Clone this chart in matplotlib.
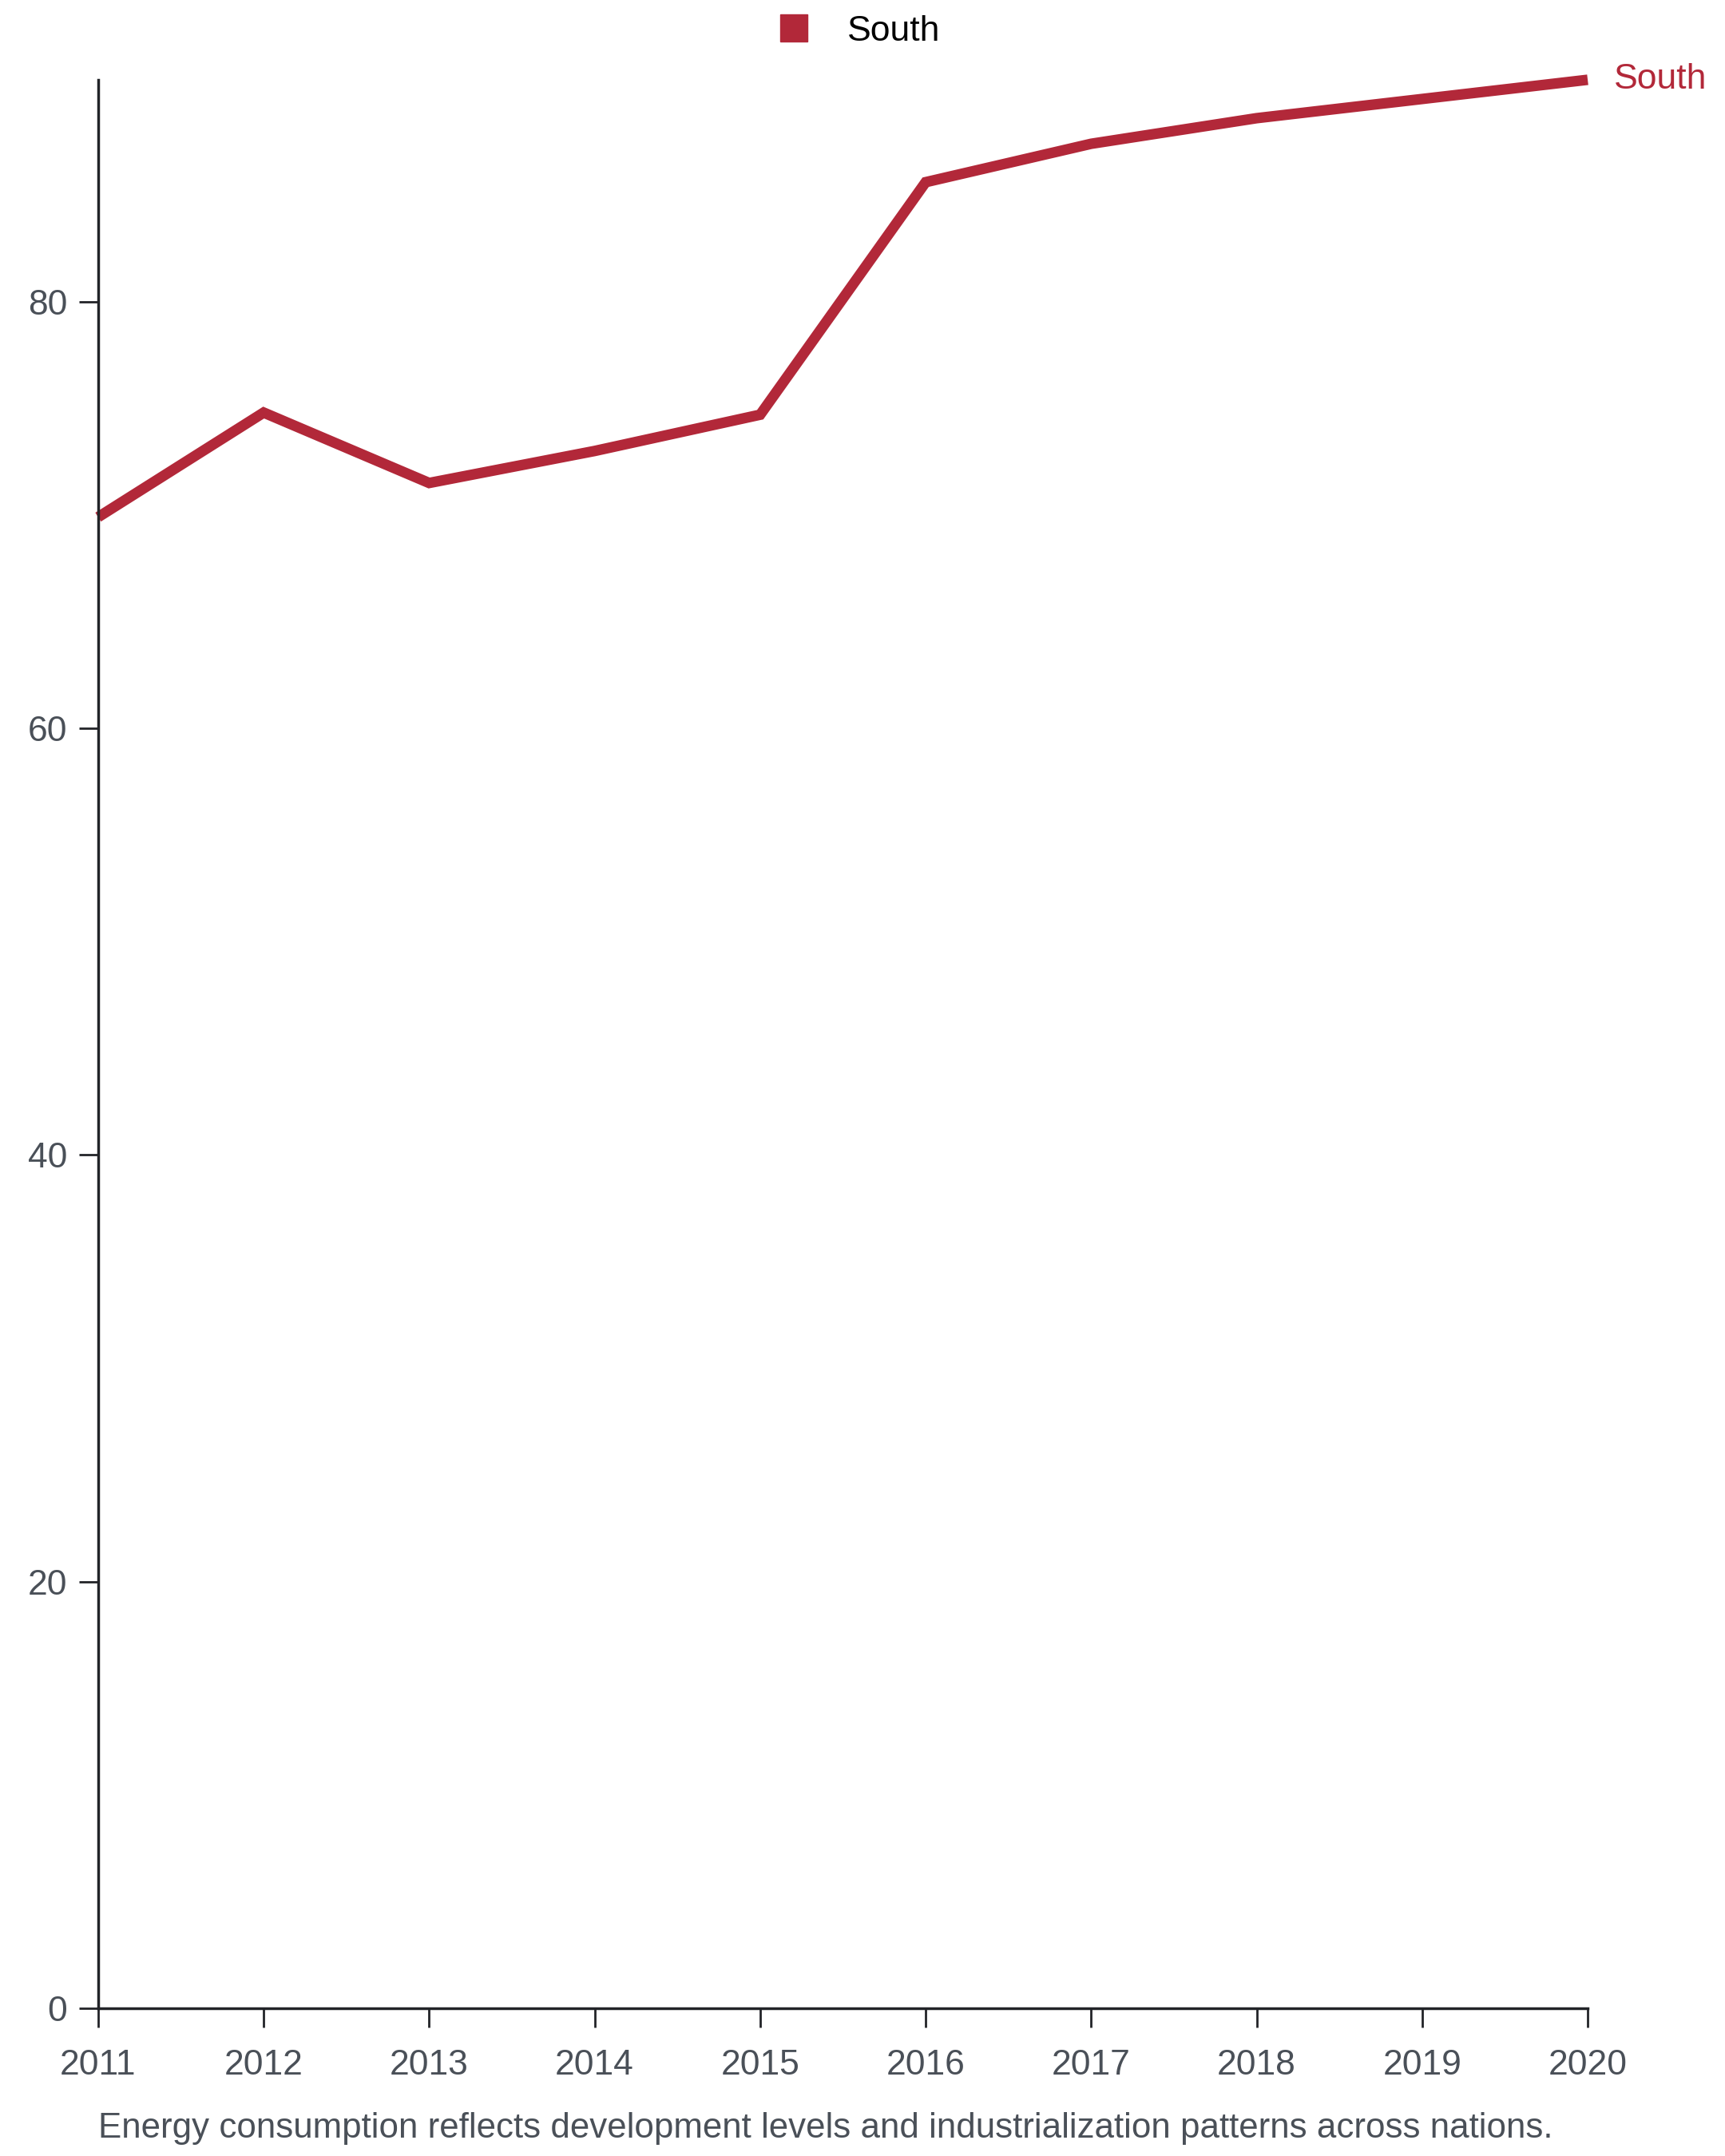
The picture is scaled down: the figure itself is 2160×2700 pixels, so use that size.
import matplotlib
matplotlib.use('Agg')
from matplotlib import pyplot as plt
from matplotlib.lines import Line2D

plt.rcParams['font.family'] = ['Liberation Sans', 'DejaVu Sans']

years = [2011, 2012, 2013, 2014, 2015, 2016, 2017, 2018, 2019, 2020]
south = [69.9, 74.8, 71.5, 73.0, 74.7, 85.6, 87.4, 88.6, 89.5, 90.4]
series_name = 'South'
yticks = [0, 20, 40, 60, 80]
caption = 'Energy consumption reflects development levels and industrialization patterns across nations.'

red = '#b22839'
axis_col = '#222428'
text_col = '#4a5058'

fig = plt.figure(figsize=(21.6, 27), dpi=100)
ax = fig.add_axes([0.0569, 0.0685, 0.8635, 0.8945])

ax.plot(years, south, color=red, linewidth=9.5, solid_joinstyle='miter',
        solid_capstyle='butt', clip_on=False)
ax.annotate(series_name, (years[-1], south[-1]), xytext=(24, 0),
            textcoords='offset points', color=red, fontsize=32,
            va='center', ha='left', annotation_clip=False)

ax.set_xlim(years[0], years[-1])
ax.set_ylim(0, max(south))
ax.set_xticks(years)
ax.set_xticklabels([str(y) for y in years])
ax.set_yticks(yticks)

for s in ['top', 'right']:
    ax.spines[s].set_visible(False)
for s in ['left', 'bottom']:
    ax.spines[s].set_color(axis_col)
    ax.spines[s].set_linewidth(2.5)
ax.tick_params(axis='both', length=17, width=2, color=axis_col,
               labelsize=32, labelcolor=text_col)
ax.tick_params(axis='x', pad=20)
ax.tick_params(axis='y', pad=11)

handle = Line2D([], [], color=red, marker='s', markersize=24, linestyle='none')
fig.legend(handles=[handle], labels=[series_name], loc='center',
           bbox_to_anchor=(0.4922, 0.9855), frameon=False, fontsize=32,
           handletextpad=0.5)

fig.text(0.0569, 1 - 2665 / 2700, caption, fontsize=31.6, color=text_col,
         ha='left', va='center')

fig.savefig('out.png', dpi=100)
